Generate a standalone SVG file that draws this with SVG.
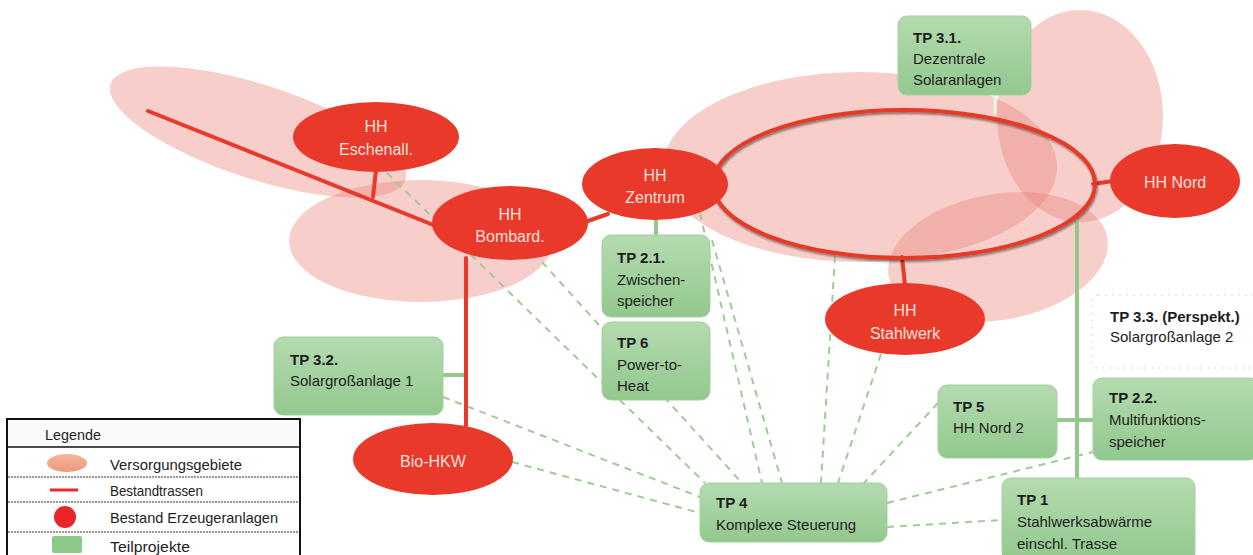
<svg xmlns="http://www.w3.org/2000/svg" width="1253" height="555" viewBox="0 0 1253 555">
<defs>
  <linearGradient id="gbox" x1="0" y1="0" x2="0" y2="1">
    <stop offset="0" stop-color="#b4dbb0"/>
    <stop offset="1" stop-color="#92c88d"/>
  </linearGradient>
  <linearGradient id="gleg" x1="0" y1="0" x2="0" y2="1">
    <stop offset="0" stop-color="#f4b49a"/>
    <stop offset="1" stop-color="#ee9a7c"/>
  </linearGradient>
  <filter id="sh" x="-10%" y="-10%" width="120%" height="130%">
    <feDropShadow dx="1" dy="2" stdDeviation="1" flood-color="#000" flood-opacity="0.45"/>
  </filter>
</defs>
<style>
  .area { fill: #eb857a; fill-opacity: 0.4; }
  .red { fill: #e8392a; }
  .rline { stroke: #e8392a; stroke-width: 4; fill: none; stroke-linecap: round; }
  .gline { stroke: #93c78c; stroke-width: 4; fill: none; }
  .dash { stroke: #9fcb98; stroke-width: 2; fill: none; stroke-dasharray: 7 6; }
  .box { fill: url(#gbox); stroke: #a3cf9d; stroke-width: 1; }
  .nt { font-family: "Liberation Sans", Arial, sans-serif; font-size: 16px; fill: #f8e0dc; text-anchor: middle; }
  .bt { font-family: "Liberation Sans", Arial, sans-serif; font-size: 15px; fill: #1e1e1e; }
  .b { font-weight: bold; }
  .lt { font-family: "Liberation Sans", Arial, sans-serif; font-size: 15px; fill: #222; }
</style>

<g id="areas">
  <ellipse class="area" cx="258" cy="132" rx="155" ry="47" transform="rotate(18 258 132)"/>
  <ellipse class="area" cx="421" cy="241" rx="132" ry="61"/>
  <ellipse class="area" cx="860" cy="167" rx="197" ry="95"/>
  <ellipse class="area" cx="1080" cy="116" rx="83" ry="106"/>
  <ellipse class="area" cx="998" cy="257" rx="111" ry="63" transform="rotate(-10 998 257)"/>
</g>

<g id="connectors">
  <line class="dash" x1="387" y1="173" x2="705" y2="483"/>
  <line class="dash" x1="542" y1="262" x2="742" y2="483"/>
  <line class="dash" x1="700" y1="213" x2="762" y2="483"/>
  <line class="dash" x1="712" y1="240" x2="782" y2="483"/>
  <line class="dash" x1="835" y1="256" x2="821" y2="483"/>
  <line class="dash" x1="881" y1="354" x2="838" y2="483"/>
  <line class="dash" x1="938" y1="403" x2="864" y2="483"/>
  <line class="dash" x1="443" y1="397" x2="700" y2="497"/>
  <line class="dash" x1="512" y1="462" x2="700" y2="513"/>
  <line class="dash" x1="887" y1="503" x2="1093" y2="452"/>
  <line class="dash" x1="887" y1="527" x2="1002" y2="520"/>

  <line class="gline" x1="656" y1="219" x2="656" y2="236"/>
  <line class="gline" x1="443" y1="375" x2="466" y2="375"/>
  <line class="gline" x1="1077" y1="222" x2="1077" y2="479"/>
  <line class="gline" x1="1057" y1="420" x2="1094" y2="420"/>
  <line x1="995" y1="95" x2="995" y2="114" stroke="#e9f4e7" stroke-width="3"/>

  <line class="rline" x1="148" y1="111" x2="436" y2="226"/>
  <line class="rline" x1="376" y1="170" x2="373" y2="197"/>
  <line class="rline" x1="585" y1="222" x2="608" y2="214"/>
  <line class="rline" x1="466" y1="258" x2="466" y2="426"/>
  <line class="rline" x1="1093" y1="184" x2="1113" y2="181"/>
  <line class="rline" x1="902" y1="257" x2="905" y2="285"/>
  <ellipse cx="904" cy="184" rx="191" ry="74" fill="none" stroke="#e53a28" stroke-width="4" filter="url(#sh)"/>
</g>

<g id="n-eschenall">
  <ellipse class="red" cx="376" cy="137" rx="83" ry="35"/>
  <text class="nt" x="376" y="132">HH</text>
  <text class="nt" x="376" y="155">Eschenall.</text>
</g>
<g id="n-bombard">
  <ellipse class="red" cx="510" cy="223" rx="78" ry="37"/>
  <text class="nt" x="510" y="220">HH</text>
  <text class="nt" x="510" y="242">Bombard.</text>
</g>
<g id="n-zentrum">
  <ellipse class="red" cx="655" cy="184" rx="73" ry="36"/>
  <text class="nt" x="655" y="181">HH</text>
  <text class="nt" x="655" y="203">Zentrum</text>
</g>
<g id="n-nord">
  <ellipse class="red" cx="1175" cy="181" rx="65" ry="37"/>
  <text class="nt" x="1175" y="188">HH Nord</text>
</g>
<g id="n-stahlwerk">
  <ellipse class="red" cx="905" cy="319" rx="80" ry="36"/>
  <text class="nt" x="905" y="316">HH</text>
  <text class="nt" x="905" y="339">Stahlwerk</text>
</g>
<g id="n-biohkw">
  <ellipse class="red" cx="433" cy="459" rx="80" ry="36"/>
  <text class="nt" x="433" y="467">Bio-HKW</text>
</g>

<g id="tp31">
  <rect class="box" x="898" y="16" width="133" height="79" rx="9"/>
  <text class="bt b" x="913" y="43">TP 3.1.</text>
  <text class="bt" x="913" y="64">Dezentrale</text>
  <text class="bt" x="913" y="85">Solaranlagen</text>
</g>
<g id="tp21">
  <rect class="box" x="602" y="235" width="108" height="82" rx="9"/>
  <text class="bt b" x="617" y="263">TP 2.1.</text>
  <text class="bt" x="617" y="285">Zwischen-</text>
  <text class="bt" x="617" y="306">speicher</text>
</g>
<g id="tp6">
  <rect class="box" x="602" y="322" width="108" height="78" rx="9"/>
  <text class="bt b" x="617" y="348">TP 6</text>
  <text class="bt" x="617" y="370">Power-to-</text>
  <text class="bt" x="617" y="391">Heat</text>
</g>
<g id="tp32">
  <rect class="box" x="274" y="337" width="169" height="78" rx="9"/>
  <text class="bt b" x="290" y="365">TP 3.2.</text>
  <text class="bt" x="290" y="386">Solargroßanlage 1</text>
</g>
<g id="tp4">
  <rect class="box" x="700" y="483" width="187" height="59" rx="9"/>
  <text class="bt b" x="716" y="508">TP 4</text>
  <text class="bt" x="716" y="530">Komplexe Steuerung</text>
</g>
<g id="tp5">
  <rect class="box" x="938" y="385" width="119" height="73" rx="9"/>
  <text class="bt b" x="953" y="412">TP 5</text>
  <text class="bt" x="953" y="433">HH Nord 2</text>
</g>
<g id="tp22">
  <rect class="box" x="1093" y="378" width="166" height="82" rx="9"/>
  <text class="bt b" x="1109" y="403">TP 2.2.</text>
  <text class="bt" x="1109" y="425">Multifunktions-</text>
  <text class="bt" x="1109" y="447">speicher</text>
</g>
<g id="tp1">
  <rect class="box" x="1002" y="478" width="193" height="84" rx="9"/>
  <text class="bt b" x="1017" y="505">TP 1</text>
  <text class="bt" x="1017" y="527">Stahlwerksabwärme</text>
  <text class="bt" x="1017" y="549">einschl. Trasse</text>
</g>
<g id="tp33">
  <rect x="1092" y="295" width="175" height="73" rx="6" fill="none" stroke="#d4d4d4" stroke-width="1" stroke-dasharray="2 5"/>
  <text class="bt b" x="1110" y="322">TP 3.3. (Perspekt.)</text>
  <text class="bt" x="1110" y="342">Solargroßanlage 2</text>
</g>

<g id="legend">
  <rect x="7" y="419" width="293" height="142" fill="#fff" stroke="#111" stroke-width="2"/>
  <rect x="8" y="420" width="291" height="27" fill="#fafafa"/>
  <line x1="7" y1="447" x2="300" y2="447" stroke="#111" stroke-width="1.5"/>
  <line x1="8" y1="477" x2="299" y2="477" stroke="#333" stroke-width="1" stroke-dasharray="2 1"/>
  <line x1="8" y1="502" x2="299" y2="502" stroke="#333" stroke-width="1" stroke-dasharray="2 1"/>
  <line x1="8" y1="532" x2="299" y2="532" stroke="#333" stroke-width="1" stroke-dasharray="2 1"/>
  <text class="lt" x="45" y="440" textLength="56" lengthAdjust="spacingAndGlyphs">Legende</text>
  <ellipse cx="67" cy="463" rx="20" ry="9" fill="url(#gleg)"/>
  <text class="lt" x="110" y="470" textLength="132" lengthAdjust="spacingAndGlyphs">Versorgungsgebiete</text>
  <line x1="50" y1="490" x2="78" y2="490" stroke="#e8292a" stroke-width="3"/>
  <text class="lt" x="110" y="496" textLength="93" lengthAdjust="spacingAndGlyphs" fill="#444">Bestandtrassen</text>
  <circle cx="65" cy="517" r="11" fill="#e8262a"/>
  <text class="lt" x="110" y="523" textLength="168" lengthAdjust="spacingAndGlyphs">Bestand Erzeugeranlagen</text>
  <rect x="52" y="536" width="30" height="17" rx="2" fill="#8fc98a"/>
  <text class="lt" x="110" y="552" textLength="80" lengthAdjust="spacingAndGlyphs">Teilprojekte</text>
</g>
</svg>
